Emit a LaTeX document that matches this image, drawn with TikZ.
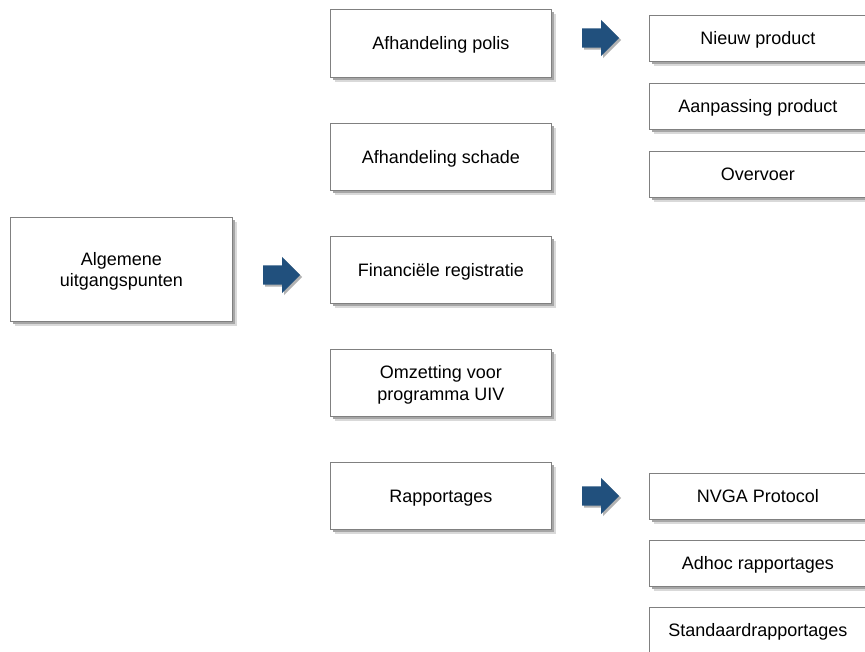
\documentclass[tikz,border=0pt]{standalone}
\usepackage{fontspec}
\setmainfont{Liberation Sans}
\usetikzlibrary{shapes.arrows}
\definecolor{arrowblue}{RGB}{33,80,125}
\definecolor{boxline}{RGB}{128,128,128}
\tikzset{
  box/.style={draw=boxline, line width=0.9pt, fill=white, anchor=north west, align=center,
    inner sep=0pt, text depth=0pt, font=\fontsize{18}{21.6}\selectfont,
    preaction={fill=black!15, transform canvas={xshift=5pt,yshift=-4.5pt}},
    preaction={fill=black!35, transform canvas={xshift=3pt,yshift=-2.5pt}}},
  bigarrow/.style={single arrow, fill=arrowblue, draw=none, inner xsep=0pt, inner ysep=9.5pt,
    single arrow head extend=8.5pt, minimum height=37pt, anchor=west,
    preaction={fill=black!30, transform canvas={xshift=2pt,yshift=-2pt}}}
}
\begin{document}
\begin{tikzpicture}[x=1pt,y=-1pt]
\clip (0,0) rectangle (865,652);
\fill[white] (0,0) rectangle (865,652);
% left
\node[box, minimum width=222pt, minimum height=104pt] (alg) at (10,217) {Algemene\\uitgangspunten};
% middle column
\node[box, minimum width=221pt, minimum height=68pt] (polis) at (330,9) {Afhandeling polis};
\node[box, minimum width=221pt, minimum height=67pt] (schade) at (330,123) {Afhandeling schade};
\node[box, minimum width=221pt, minimum height=67pt] (fin) at (330,236) {Financiële registratie};
\node[box, minimum width=221pt, minimum height=67pt] (omz) at (330,349) {Omzetting voor\\programma UIV};
\node[box, minimum width=221pt, minimum height=67pt] (rap) at (330,462) {Rapportages};
% right column
\node[box, minimum width=217pt, minimum height=46pt] (nieuw) at (649,15) {Nieuw product};
\node[box, minimum width=217pt, minimum height=46pt] (aanp) at (649,83) {Aanpassing product};
\node[box, minimum width=217pt, minimum height=46pt] (overv) at (649,151) {Overvoer};
\node[box, minimum width=217pt, minimum height=46pt] (nvga) at (649,473) {NVGA Protocol};
\node[box, minimum width=217pt, minimum height=46pt] (adhoc) at (649,540) {Adhoc rapportages};
\node[box, minimum width=217pt, minimum height=46pt] (std) at (649,607) {Standaardrapportages};
% arrows
\node[bigarrow] (a1) at (263,275) {};
\node[bigarrow] (a2) at (582,38) {};
\node[bigarrow] (a3) at (582,496) {};
\end{tikzpicture}
\end{document}
